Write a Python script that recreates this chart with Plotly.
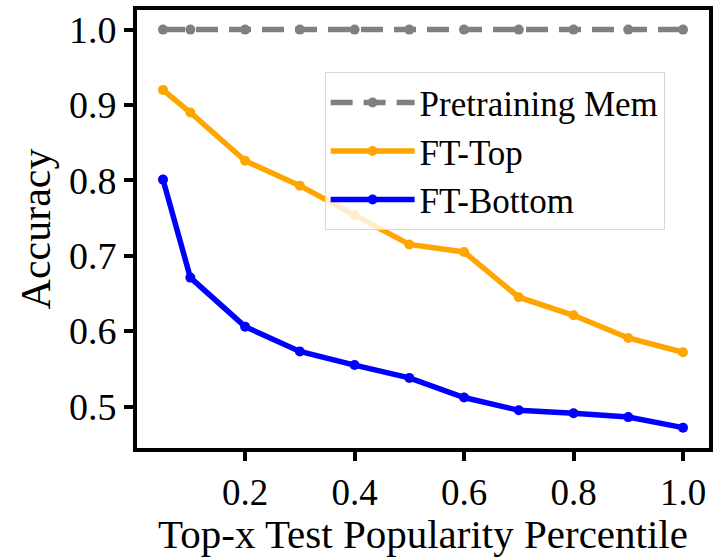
import plotly.graph_objects as go

x_vals = [0.05, 0.1, 0.2, 0.3, 0.4, 0.5, 0.6, 0.7, 0.8, 0.9, 1.0]
pretraining_mem = [1.0] * 11
ft_top = [0.920, 0.890, 0.826, 0.793, 0.754, 0.715, 0.705, 0.645, 0.621, 0.591, 0.572]
ft_bottom = [0.801, 0.671, 0.606, 0.573, 0.555, 0.538, 0.512, 0.495, 0.491, 0.486, 0.472]
x_ticks = [0.2, 0.4, 0.6, 0.8, 1.0]
y_ticks = [0.5, 0.6, 0.7, 0.8, 0.9, 1.0]

FONT = "Liberation Serif, serif"

fig = go.Figure()
fig.add_trace(go.Scatter(x=x_vals, y=pretraining_mem, mode="lines+markers", name="Pretraining Mem",
                         line=dict(color="#808080", width=5.5, dash="22px,11px"),
                         marker=dict(color="#808080", size=10)))
fig.add_trace(go.Scatter(x=x_vals, y=ft_top, mode="lines+markers", name="FT-Top",
                         line=dict(color="#FFA500", width=5.5),
                         marker=dict(color="#FFA500", size=10)))
fig.add_trace(go.Scatter(x=x_vals, y=ft_bottom, mode="lines+markers", name="FT-Bottom",
                         line=dict(color="#0000FF", width=5.5),
                         marker=dict(color="#0000FF", size=10)))

fig.update_layout(
    width=718, height=557,
    margin=dict(l=137, r=5, t=10, b=109),
    paper_bgcolor="white", plot_bgcolor="white",
    font=dict(family=FONT, color="black", size=36),
    legend=dict(x=0.328, y=0.858, xanchor="left", yanchor="top",
                bgcolor="rgba(255,255,255,0.8)", bordercolor="#d8d8d8", borderwidth=1,
                font=dict(size=35, family=FONT, color="black"), itemwidth=84, tracegroupgap=0),
)
fig.update_xaxes(range=[0.0025, 1.0475], tickvals=x_ticks, ticktext=[f"{v:.1f}" for v in x_ticks],
                 showgrid=False, zeroline=False, showline=True, linecolor="black", linewidth=4,
                 mirror=True, ticks="outside", ticklen=9, tickwidth=4, tickcolor="black",
                 tickfont=dict(size=37, family=FONT),
                 title=dict(text="Top-x Test Popularity Percentile", font=dict(size=41, family=FONT), standoff=9))
fig.update_yaxes(range=[0.445, 1.026], tickvals=y_ticks, ticktext=[f"{v:.1f}" for v in y_ticks],
                 showgrid=False, zeroline=False, showline=True, linecolor="black", linewidth=4,
                 mirror=True, ticks="outside", ticklen=9, tickwidth=4, tickcolor="black",
                 tickfont=dict(size=38, family=FONT),
                 title=dict(text="Accuracy", font=dict(size=42, family=FONT), standoff=6))

fig.write_html("out.html")
